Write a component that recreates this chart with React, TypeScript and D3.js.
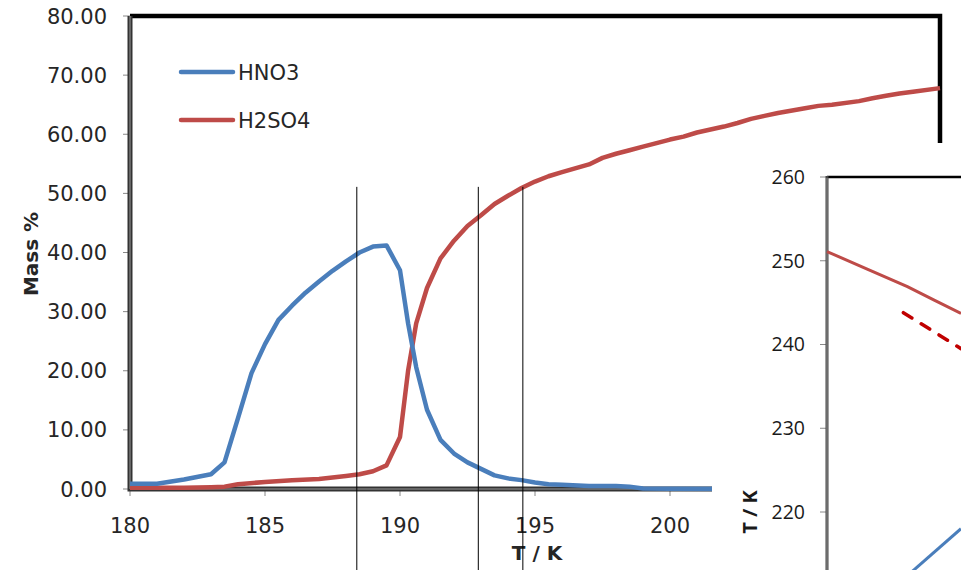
import React, { useEffect, useRef } from "react";
import * as d3 from "d3";

// main chart: composition vs temperature
const tempHNO3 = [180, 181, 182, 183, 183.5, 184, 184.5, 185, 185.5, 186, 186.5, 187, 187.5, 188, 188.5, 189, 189.5, 190, 190.3, 190.6, 191, 191.5, 192, 192.5, 193, 193.5, 194, 194.5, 195, 195.5, 196, 197, 198, 198.5, 199, 200, 205, 210];
const massHNO3 = [0.9, 0.9, 1.6, 2.5, 4.5, 12, 19.6, 24.5, 28.6, 31, 33.2, 35.1, 36.9, 38.5, 40.0, 41.0, 41.2, 37.0, 28, 20.6, 13.4, 8.3, 6.0, 4.5, 3.4, 2.3, 1.8, 1.5, 1.1, 0.8, 0.7, 0.5, 0.5, 0.4, 0.1, 0.05, 0, 0];

const tempH2SO4 = [180, 181, 182, 183, 183.5, 184, 185, 186, 187, 188, 188.5, 189, 189.5, 190, 190.3, 190.6, 191, 191.5, 192, 192.5, 193, 193.5, 194, 194.5, 195, 195.5, 196, 197, 197.5, 198, 198.5, 199, 199.5, 200, 200.5, 201, 201.5, 202, 202.5, 203, 203.5, 204, 205, 205.5, 206, 207, 207.5, 208, 208.5, 209, 210];
const massH2SO4 = [0.2, 0.2, 0.2, 0.3, 0.4, 0.8, 1.2, 1.5, 1.7, 2.2, 2.5, 3.0, 4.0, 8.8, 20, 28, 34, 39, 42, 44.5, 46.3, 48.2, 49.6, 50.9, 52, 52.9, 53.6, 54.9, 56, 56.7, 57.3, 57.9, 58.5, 59.1, 59.6, 60.3, 60.8, 61.3, 61.9, 62.6, 63.1, 63.6, 64.4, 64.8, 65.0, 65.6, 66.1, 66.5, 66.9, 67.2, 67.8];

// only the ticks not hidden by the inset
const xTicks = [180, 185, 190, 195, 200];
const yTicks = [0, 10, 20, 30, 40, 50, 60, 70, 80];
const markerTemps = [188.4, 192.9, 194.55];

// inset chart (partly visible)
const insetSolidX = [0, 3, 6, 8, 10];
const insetSolidT = [251.1, 249.0, 246.9, 245.3, 243.7];
const insetDashX = [5.7, 10];
const insetDashT = [243.8, 239.5];
const insetBlueX = [6.0, 10];
const insetBlueT = [212.4, 218.0];
const insetTicks = [260, 250, 240, 230, 220];

const W = 961, H = 570;
const BLUE = "#4a7ebb", RED = "#be4b48";
const FONT = "DejaVu Sans";

export default function App() {
  const ref = useRef<SVGSVGElement>(null);

  useEffect(() => {
    const svg = d3.select(ref.current);
    svg.selectAll("*").remove();

    const x = d3.scaleLinear().domain([180, 210]).range([130, 940]);
    const y = d3.scaleLinear().domain([0, 80]).range([489, 16]);

    const line = d3.line<[number, number]>()
      .x(d => x(d[0]))
      .y(d => y(d[1]));

    const g = svg.append("g");

    // frame top + right
    g.append("path")
      .attr("d", `M${x(180)},${y(80)}H${x(210)}V${y(0)}`)
      .attr("fill", "none").attr("stroke", "#000").attr("stroke-width", 4.5);

    // ticks
    g.selectAll(".yt").data(yTicks).join("line")
      .attr("x1", x(180) - 7).attr("x2", x(180))
      .attr("y1", d => y(d)).attr("y2", d => y(d))
      .attr("stroke", "#888").attr("stroke-width", 1);
    g.selectAll(".xt").data(xTicks).join("line")
      .attr("x1", d => x(d)).attr("x2", d => x(d))
      .attr("y1", y(0)).attr("y2", y(0) + 7)
      .attr("stroke", "#888").attr("stroke-width", 1);

    // axes (dark double line look)
    const axisPath = `M${x(180)},${y(80)}V${y(0)}H${x(210)}`;
    g.append("path").attr("d", axisPath).attr("fill", "none")
      .attr("stroke", "#333").attr("stroke-width", 5);
    g.append("path").attr("d", axisPath).attr("fill", "none")
      .attr("stroke", "#9a9a9a").attr("stroke-width", 1);

    g.selectAll(".yl").data(yTicks).join("text")
      .attr("x", 107).attr("y", d => y(d)).attr("dy", "0.36em")
      .attr("text-anchor", "end")
      .attr("font-family", FONT).attr("font-size", 21).attr("fill", "#262626")
      .text(d => d3.format(".2f")(d));
    g.selectAll(".xl").data(xTicks).join("text")
      .attr("x", d => x(d)).attr("y", 533)
      .attr("text-anchor", "middle")
      .attr("font-family", FONT).attr("font-size", 21).attr("fill", "#262626")
      .text(d => d);

    g.append("text")
      .attr("transform", `translate(38,254) rotate(-90)`)
      .attr("text-anchor", "middle")
      .attr("font-family", FONT).attr("font-weight", "bold").attr("font-size", 20)
      .attr("fill", "#262626")
      .text("Mass %");
    g.append("text")
      .attr("x", 537).attr("y", 560)
      .attr("text-anchor", "middle")
      .attr("font-family", FONT).attr("font-weight", "bold").attr("font-size", 20)
      .attr("fill", "#262626")
      .text("T / K");

    // series
    const hno3 = tempHNO3.map((t, i) => [t, massHNO3[i]] as [number, number]);
    const h2so4 = tempH2SO4.map((t, i) => [t, massH2SO4[i]] as [number, number]);
    g.append("path").attr("d", line(h2so4)).attr("fill", "none")
      .attr("stroke", RED).attr("stroke-width", 4.5).attr("stroke-linejoin", "round");
    g.append("path").attr("d", line(hno3)).attr("fill", "none")
      .attr("stroke", BLUE).attr("stroke-width", 4.5).attr("stroke-linejoin", "round");

    // legend
    const legend = [{ name: "HNO3", color: BLUE, y: 72 }, { name: "H2SO4", color: RED, y: 120 }];
    const lg = g.selectAll(".lg").data(legend).join("g");
    lg.append("line")
      .attr("x1", 181).attr("x2", 233)
      .attr("y1", d => d.y).attr("y2", d => d.y)
      .attr("stroke", d => d.color).attr("stroke-width", 4.5).attr("stroke-linecap", "round");
    lg.append("text")
      .attr("x", 238).attr("y", d => d.y).attr("dy", "0.36em")
      .attr("font-family", FONT).attr("font-size", 21).attr("fill", "#262626")
      .text(d => d.name);

    // inset
    const ix = d3.scaleLinear().domain([0, 10]).range([827, 961]);
    const iy = d3.scaleLinear().domain([260, 220]).range([177, 512]);
    const iline = d3.line<[number, number]>().x(d => ix(d[0])).y(d => iy(d[1]));

    const ins = svg.append("g");
    ins.append("rect").attr("x", 712).attr("y", 143)
      .attr("width", W - 712).attr("height", H - 143).attr("fill", "#fff");

    ins.selectAll(".it").data(insetTicks).join("line")
      .attr("x1", ix(0) - 7).attr("x2", ix(0))
      .attr("y1", d => iy(d)).attr("y2", d => iy(d))
      .attr("stroke", "#888").attr("stroke-width", 1);
    ins.append("line")
      .attr("x1", ix(0)).attr("x2", W).attr("y1", iy(260)).attr("y2", iy(260))
      .attr("stroke", "#000").attr("stroke-width", 2.5);
    ins.append("line")
      .attr("x1", ix(0)).attr("x2", ix(0)).attr("y1", iy(260) - 1).attr("y2", H)
      .attr("stroke", "#444").attr("stroke-width", 3);
    ins.append("line")
      .attr("x1", ix(0)).attr("x2", ix(0)).attr("y1", iy(260) + 1).attr("y2", H)
      .attr("stroke", "#aaa").attr("stroke-width", 0.8);

    ins.selectAll(".il").data(insetTicks).join("text")
      .attr("x", 805).attr("y", d => iy(d)).attr("dy", "0.35em")
      .attr("text-anchor", "end")
      .attr("font-family", "Open Sans").attr("font-size", 19.5).attr("fill", "#1a1a1a")
      .text(d => d);
    ins.append("text")
      .attr("transform", `translate(757,512) rotate(-90)`)
      .attr("text-anchor", "middle")
      .attr("font-family", "Open Sans").attr("font-weight", "bold").attr("font-size", 20)
      .attr("fill", "#1a1a1a")
      .text("T / K");

    const solid = insetSolidX.map((v, i) => [v, insetSolidT[i]] as [number, number]);
    const dash = insetDashX.map((v, i) => [v, insetDashT[i]] as [number, number]);
    const blue = insetBlueX.map((v, i) => [v, insetBlueT[i]] as [number, number]);
    ins.append("path").attr("d", iline(solid)).attr("fill", "none")
      .attr("stroke", RED).attr("stroke-width", 3);
    ins.append("path").attr("d", iline(dash)).attr("fill", "none")
      .attr("stroke", "#c00000").attr("stroke-width", 3.5)
      .attr("stroke-dasharray", "10,11").attr("stroke-linecap", "round");
    ins.append("path").attr("d", iline(blue)).attr("fill", "none")
      .attr("stroke", BLUE).attr("stroke-width", 3);

    // thin marker lines
    svg.selectAll(".mk").data(markerTemps).join("line")
      .attr("x1", d => x(d)).attr("x2", d => x(d))
      .attr("y1", y(51.1)).attr("y2", H)
      .attr("stroke", "#000").attr("stroke-width", 1);
  }, []);

  return (
    <svg ref={ref} width={W} height={H}
      style={{ position: "absolute", left: 0, top: 0, background: "#fff" }} />
  );
}
